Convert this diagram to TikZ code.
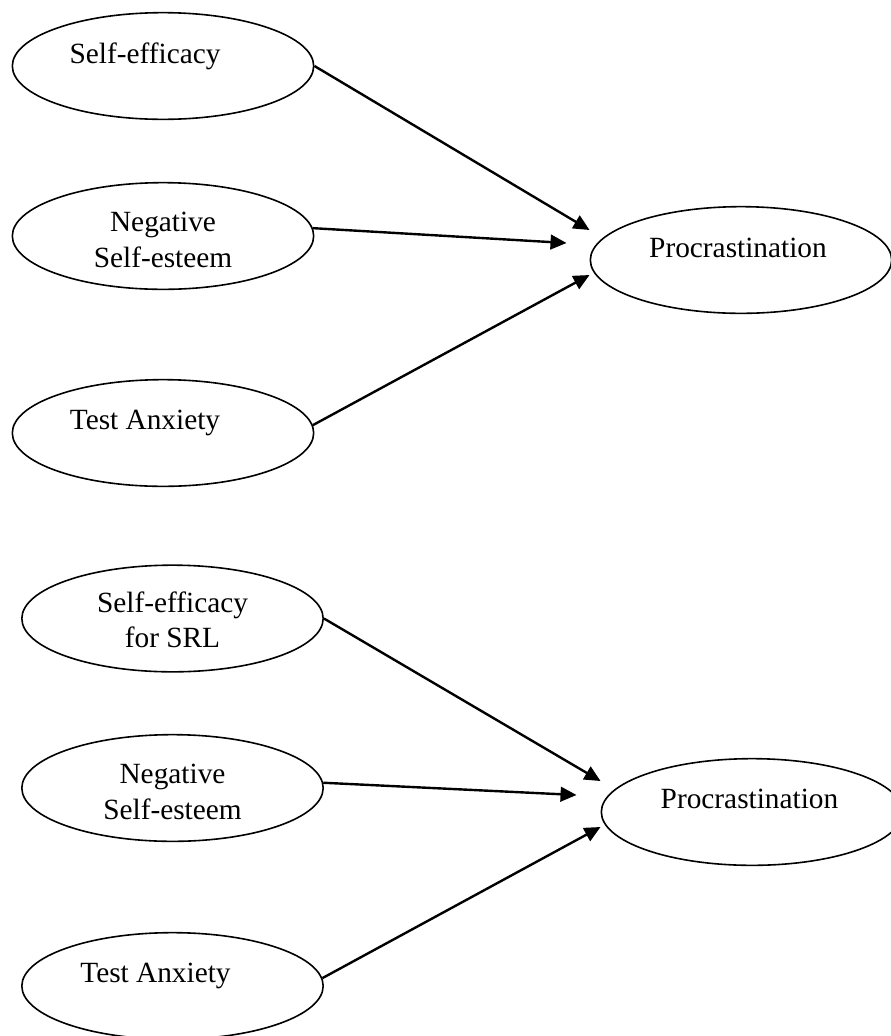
\documentclass[tikz,border=0pt]{standalone}
\usepackage{fontspec}
\setmainfont{Liberation Serif}
\usetikzlibrary{shapes.geometric,arrows.meta,positioning}

\tikzset{
	var/.style={draw, ellipse, line width=1.2pt, minimum width=226pt, minimum height=80pt, inner sep=0pt},
	label text/.style={align=center, inner sep=0pt},
	link/.style={line width=1.8pt, -{Triangle[length=12pt,width=11pt]}}
}

\begin{document}
\begin{tikzpicture}[x=0.75pt, y=-0.75pt, font=\fontsize{22pt}{26.5pt}\selectfont]
	\clip (0,0) rectangle (891,1036);
	%first model
	\node[var] (se1) at (163,66) {};
	\node[var] (ns1) at (163,236) {};
	\node[var] (ta1) at (163,433) {};
	\node[var] (pr1) at (741,260) {};
	%texts
	\node[label text] (se1 txt) at ([shift={(-18,-10)}]se1.center) {Self-efficacy};
	\node[label text] (ns1 txt) at ([shift={(0,4)}]ns1.center) {Negative\\Self-esteem};
	\node[label text] (ta1 txt) at ([shift={(-18,-10)}]ta1.center) {Test Anxiety};
	\node[label text] (pr1 txt) at ([shift={(-3,-12)}]pr1.center) {Procrastination};
	%arrow ends
	\coordinate (pr1 a) at ([shift={(0,-30)}]pr1.west);
	\coordinate (pr1 b) at ([shift={(-23,-17)}]pr1.west);
	\coordinate (pr1 c) at ([shift={(0,15)}]pr1.west);
	\draw[link] (se1.east) -- (pr1 a);
	\draw[link] (ns1.3) -- (pr1 b);
	\draw[link] (ta1.3) -- (pr1 c);

	%second model
	\node[var] (se2) at (172.5,618.5) {};
	\node[var] (ns2) at (172.5,788) {};
	\node[var] (ta2) at (172.5,986) {};
	\node[var] (pr2) at (752,812) {};
	%texts
	\node[label text] (se2 txt) at ([shift={(0,1)}]se2.center) {Self-efficacy\\for SRL};
	\node[label text] (ns2 txt) at ([shift={(0,4)}]ns2.center) {Negative\\Self-esteem};
	\node[label text] (ta2 txt) at ([shift={(-17,-10)}]ta2.center) {Test Anxiety};
	\node[label text] (pr2 txt) at ([shift={(-2.5,-13)}]pr2.center) {Procrastination};
	%arrow ends
	\coordinate (pr2 a) at ([shift={(0,-31)}]pr2.west);
	\coordinate (pr2 b) at ([shift={(-24,-17)}]pr2.west);
	\coordinate (pr2 c) at ([shift={(0,15)}]pr2.west);
	\draw[link] (se2.east) -- (pr2 a);
	\draw[link] (ns2.2) -- (pr2 b);
	\draw[link] (ta2.3) -- (pr2 c);
\end{tikzpicture}
\end{document}
